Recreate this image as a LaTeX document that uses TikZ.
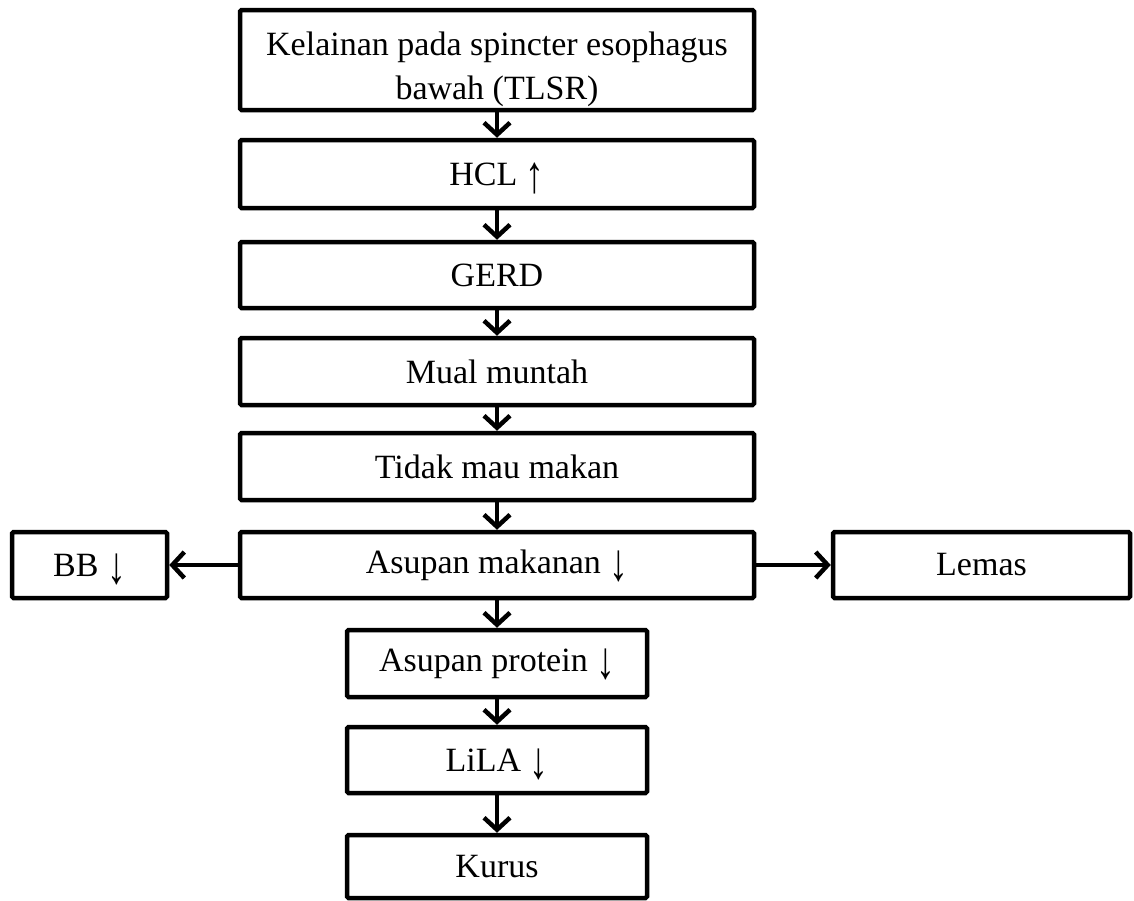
\documentclass[tikz,border=0pt]{standalone}
\usepackage{fontspec}
\usepackage{graphicx}
\setmainfont{Liberation Serif}
\usetikzlibrary{arrows.meta}
\newcommand\myda{\smash{\raisebox{-0.22em}{\scalebox{1.1}[1.55]{↓}}}}
\newcommand\myua{\smash{\raisebox{-0.22em}{\scalebox{1.1}[1.55]{↑}}}}
\begin{document}
\begin{tikzpicture}[x=1pt,y=-1pt,
  box/.style={draw=black,line width=4.5pt,rounded corners=1.5pt,fill=white,
    inner sep=0pt,align=center,font=\fontsize{34}{44}\selectfont},
  mainbox/.style={box,minimum width=514pt},
  lowbox/.style={box,minimum width=300pt},
  arr/.style={line width=4.5pt,-{Straight Barb[length=12pt,width=26pt,line width=4.5pt]}}]
\useasboundingbox (0,0) rectangle (1134,900);
\node[mainbox,minimum height=100pt] (k) at (497,60) {\rule{0pt}{42pt}Kelainan pada spincter esophagus\\bawah (TLSR)};
\node[mainbox,minimum height=68pt] (h) at (497,174) {HCL \myua};
\node[mainbox,minimum height=66pt] (g) at (497,275) {GERD};
\node[mainbox,minimum height=67pt] (m) at (497,371.5) {Mual muntah};
\node[mainbox,minimum height=67pt] (t) at (497,466.5) {Tidak mau makan};
\node[mainbox,minimum height=66pt] (a) at (497,565) {Asupan makanan \myda};
\node[box,minimum width=155pt,minimum height=66pt] (bb) at (89.5,565) {BB \myda};
\node[box,minimum width=297pt,minimum height=66pt] (l) at (981.5,565) {Lemas};
\node[lowbox,minimum height=67pt] (p) at (497,663.5) {Asupan protein \myda};
\node[lowbox,minimum height=66pt] (li) at (497,760) {LiLA \myda};
\node[lowbox,minimum height=63pt] (ku) at (497,866.5) {Kurus};
\draw[arr] (k) -- (h);
\draw[arr] (h) -- (g);
\draw[arr] (g) -- (m);
\draw[arr] (m) -- (t);
\draw[arr] (t) -- (a);
\draw[arr] (a) -- (bb);
\draw[arr] (a) -- (l);
\draw[arr] (a) -- (p);
\draw[arr] (p) -- (li);
\draw[arr] (li) -- (ku);
\end{tikzpicture}
\end{document}
